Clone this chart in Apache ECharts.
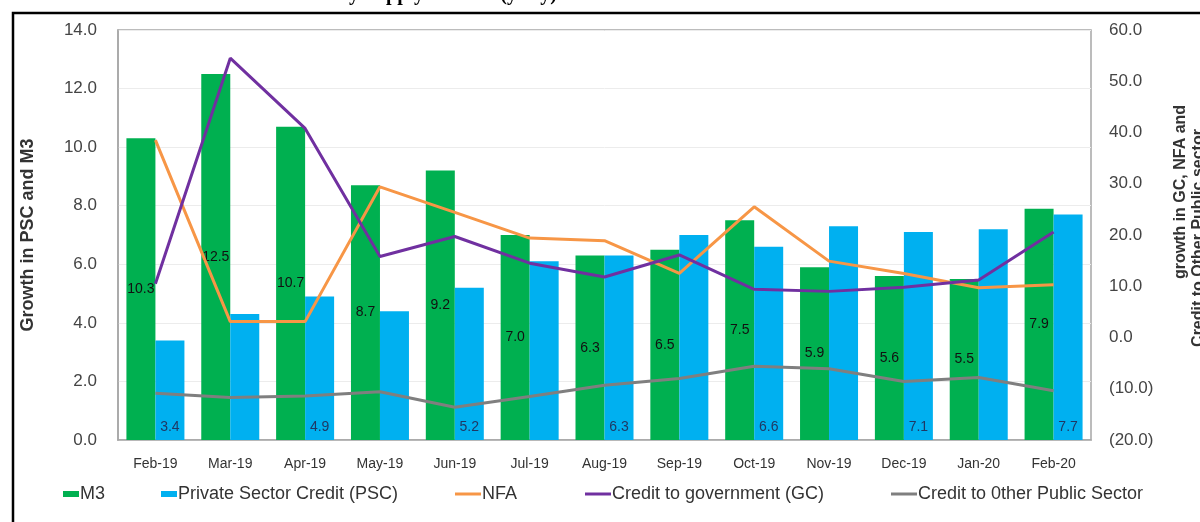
<!DOCTYPE html>
<html>
<head>
<meta charset="utf-8">
<script src="https://cdn.jsdelivr.net/npm/echarts@6/dist/echarts.min.js"></script>
<style>
  html, body { margin: 0; padding: 0; background: #fff; }
  #chart { width: 1200px; height: 522px; }
</style>
</head>
<body>
<div id="chart"></div>
<script>
// categories
const months = ['Feb-19', 'Mar-19', 'Apr-19', 'May-19', 'Jun-19', 'Jul-19', 'Aug-19',
  'Sep-19', 'Oct-19', 'Nov-19', 'Dec-19', 'Jan-20', 'Feb-20'];
// left axis (bars)
const m3 = [10.3, 12.5, 10.7, 8.7, 9.2, 7.0, 6.3, 6.5, 7.5, 5.9, 5.6, 5.5, 7.9];
const psc = [3.4, 4.3, 4.9, 4.4, 5.2, 6.1, 6.3, 7.0, 6.6, 7.3, 7.1, 7.2, 7.7];
// right axis (lines)
const nfa = [38.5, 3.1, 3.1, 29.4, 24.4, 19.4, 18.9, 12.5, 25.5, 14.9, 12.5, 9.7, 10.3];
const gc = [10.5, 54.5, 40.8, 15.8, 19.7, 14.5, 11.8, 16.1, 9.4, 9.0, 9.8, 11.2, 20.6];
const otherPublic = [-10.9, -11.7, -11.4, -10.6, -13.6, -11.5, -9.3, -8.0, -5.6, -6.1, -8.6, -7.8, -10.4];

const names = ['M3', 'Private Sector Credit (PSC)', 'NFA', 'Credit to government (GC)', 'Credit to 0ther Public Sector'];
const legendLeft = [58, 156, 450, 580, 886];

const chart = echarts.init(document.getElementById('chart'));

const font = 'Arial, "Liberation Sans", sans-serif';

chart.setOption({
  animation: false,
  textStyle: { fontFamily: font },
  grid: {
    left: 118,
    right: 109,
    top: 30,
    bottom: 82,
    show: true,
    borderColor: '#a6a6a6',
    borderWidth: 1.5,
    outerBoundsMode: 'none',
  },
  legend: names.map((n, i) => ({
    data: [n],
    left: legendLeft[i],
    top: 480,
    itemGap: 0,
    icon: 'rect',
    itemWidth: i < 2 ? 16 : 26,
    itemHeight: i < 2 ? 6 : 3,
    textStyle: { fontSize: 18, color: '#333', padding: [0, 0, 0, -4] },
  })),
  xAxis: {
    type: 'category',
    data: months,
    axisLine: { lineStyle: { color: '#a6a6a6', width: 1.5 } },
    axisTick: { show: false },
    axisLabel: { color: '#333', fontSize: 14, margin: 17 },
  },
  yAxis: [{
    type: 'value',
    min: 0,
    max: 14,
    interval: 2,
    name: 'Growth in PSC and M3',
    nameLocation: 'middle',
    nameGap: 81,
    nameTextStyle: { fontSize: 18, fontWeight: 'bold', color: '#333' },
    axisLine: { show: true, lineStyle: { color: '#a6a6a6', width: 1.5 } },
    axisTick: { show: false },
    splitLine: { lineStyle: { color: '#ececec' } },
    axisLabel: { color: '#444', fontSize: 17, margin: 21, formatter: (v) => v.toFixed(1) },
  }, {
    type: 'value',
    min: -20,
    max: 60,
    interval: 10,
    axisLine: { show: false },
    axisTick: { show: false },
    splitLine: { show: false },
    axisLabel: {
      color: '#444',
      fontSize: 17,
      margin: 18,
      formatter: (v) => v < 0 ? '(' + Math.abs(v).toFixed(1) + ')' : v.toFixed(1),
    },
  }],
  graphic: [{
    type: 'rect',
    shape: { x: 13, y: 13, width: 1200, height: 600 },
    style: { fill: 'none', stroke: '#000', lineWidth: 2.5 },
    silent: true,
  }, {
    type: 'text',
    x: 300,
    y: 5,
    style: {
      text: 'Money Supply Growth (y-o-y)',
      font: 'bold 20px "Liberation Serif", serif',
      fill: '#000',
      textVerticalAlign: 'bottom',
    },
  }, {
    type: 'text',
    x: 1181,
    y: 192,
    rotation: Math.PI / 2,
    style: {
      text: 'growth in GC, NFA and',
      font: 'bold 16px Arial, "Liberation Sans", sans-serif',
      fill: '#333',
      textAlign: 'center',
      textVerticalAlign: 'middle',
    },
  }, {
    type: 'text',
    x: 1199,
    y: 238,
    rotation: Math.PI / 2,
    style: {
      text: 'Credit to Other Public sector',
      font: 'bold 16px Arial, "Liberation Sans", sans-serif',
      fill: '#333',
      textAlign: 'center',
      textVerticalAlign: 'middle',
    },
  }],
  series: [{
    name: names[0],
    type: 'bar',
    data: m3,
    barWidth: 29,
    barGap: '0%',
    itemStyle: { color: '#00b050' },
    label: { show: true, position: 'inside', color: '#111', fontSize: 14, formatter: (p) => p.value.toFixed(1) },
  }, {
    name: names[1],
    type: 'bar',
    data: psc,
    barWidth: 29,
    barGap: '0%',
    itemStyle: { color: '#00b0f0' },
    label: {
      show: true,
      position: 'insideBottom',
      distance: 6,
      color: '#1f3864',
      fontSize: 14,
      formatter: (p) => p.dataIndex % 2 === 0 ? p.value.toFixed(1) : '',
    },
  }, {
    name: names[2],
    type: 'line',
    yAxisIndex: 1,
    data: nfa,
    symbol: 'none',
    itemStyle: { color: '#f79646' },
    lineStyle: { color: '#f79646', width: 3 },
  }, {
    name: names[3],
    type: 'line',
    yAxisIndex: 1,
    data: gc,
    symbol: 'none',
    itemStyle: { color: '#7030a0' },
    lineStyle: { color: '#7030a0', width: 3 },
  }, {
    name: names[4],
    type: 'line',
    yAxisIndex: 1,
    data: otherPublic,
    symbol: 'none',
    itemStyle: { color: '#7f7f7f' },
    lineStyle: { color: '#7f7f7f', width: 3 },
  }],
});
</script>
</body>
</html>
